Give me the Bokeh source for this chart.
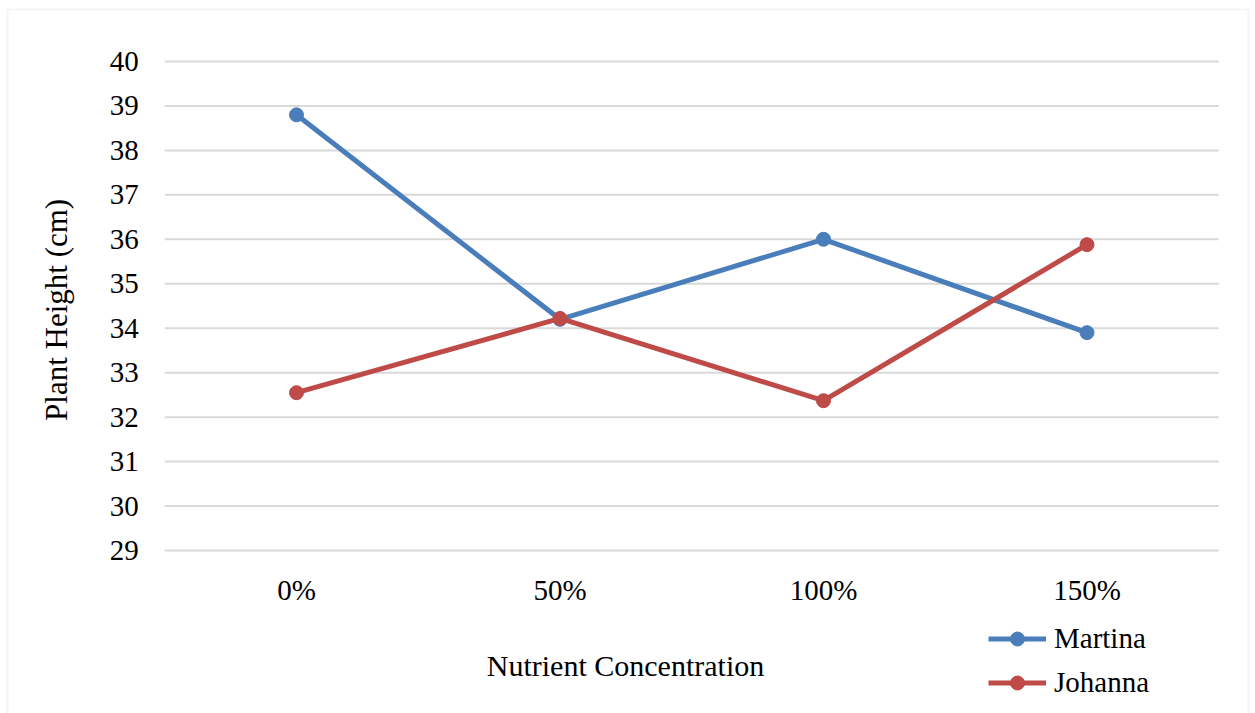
from bokeh.plotting import figure
from bokeh.models import (Range1d, Label, Legend, LegendItem, BoxAnnotation,
                          LinearAxis, FixedTicker)
from bokeh.embed import file_html
from bokeh.resources import INLINE

concentrations = ["0%", "50%", "100%", "150%"]
martina = [38.8, 34.2, 36.0, 33.9]
johanna = [32.55, 34.22, 32.37, 35.88]
series_names = ["Martina", "Johanna"]
y_ticks = [29, 30, 31, 32, 33, 34, 35, 36, 37, 38, 39, 40]

FONT = "Liberation Serif"
FS = "29px"
TITLE_FS = "30px"
BLUE = "#4A7EBB"
RED = "#BE4B48"
GRID = "#D9D9D9"

W, H = 1255, 713
# layout of the plotting area (pixels): category centres and value scale
CAT0_PX, CAT_STEP = 296.0, 263.5
Y40_PX, Y_UNIT = 61.0, 44.4545


def px_x(px):
    return (px - CAT0_PX) / CAT_STEP


def px_y(py):
    return 40 - (py - Y40_PX) / Y_UNIT


xs = list(range(len(concentrations)))

p = figure(width=W, height=H, output_backend="svg", toolbar_location=None,
           x_range=Range1d(px_x(0), px_x(W)), y_range=Range1d(px_y(H), px_y(0)),
           x_axis_type=None, y_axis_type=None,
           min_border=0, min_border_left=0, min_border_right=0,
           min_border_top=0, min_border_bottom=0)
p.outline_line_color = None
p.background_fill_color = "white"
p.border_fill_color = "white"
p.xgrid.visible = False
p.ygrid.visible = False

# horizontal gridlines across the category span
x_lo, x_hi = -0.5, len(concentrations) - 0.5
p.segment(x0=[x_lo] * len(y_ticks), x1=[x_hi] * len(y_ticks), y0=y_ticks, y1=y_ticks,
          line_color=GRID, line_width=2, level="underlay")

r1l = p.line(xs, martina, line_color=BLUE, line_width=5)
r1s = p.scatter(xs, martina, size=14, fill_color=BLUE, line_color=BLUE)
r2l = p.line(xs, johanna, line_color=RED, line_width=5)
r2s = p.scatter(xs, johanna, size=14, fill_color=RED, line_color=RED)

# axes placed at the edges of the category / value span
yaxis = LinearAxis(fixed_location=x_lo, ticker=FixedTicker(ticks=y_ticks), bounds=(29, 40))
xaxis = LinearAxis(fixed_location=29, ticker=FixedTicker(ticks=xs), bounds=(x_lo, x_hi),
                   major_label_overrides={i: c for i, c in zip(xs, concentrations)})
for ax in (xaxis, yaxis):
    ax.axis_line_color = None
    ax.major_tick_line_color = None
    ax.minor_tick_line_color = None
    ax.major_label_text_font = FONT
    ax.major_label_text_font_size = FS
    ax.major_label_text_color = "black"
yaxis.major_label_standoff = 20
xaxis.major_label_standoff = 18
yaxis.axis_label = "Plant  Height (cm)"
yaxis.axis_label_text_font = FONT
yaxis.axis_label_text_font_size = "31px"
yaxis.axis_label_text_font_style = "normal"
yaxis.axis_label_text_color = "black"
yaxis.axis_label_standoff = 33
p.add_layout(yaxis, "left")
p.add_layout(xaxis, "below")

xt = Label(x=px_x(625), y=px_y(665), text="Nutrient Concentration", text_font=FONT,
           text_font_size=TITLE_FS, text_color="black", text_align="center", text_baseline="middle")
p.add_layout(xt)

legend = Legend(items=[LegendItem(label=series_names[0], renderers=[r1l, r1s]),
                       LegendItem(label=series_names[1], renderers=[r2l, r2s])],
                location=(988, 13), orientation="vertical",
                label_text_font=FONT, label_text_font_size=FS, label_text_color="black",
                glyph_width=58, glyph_height=35, label_height=35, spacing=9,
                border_line_color=None, background_fill_alpha=0, padding=2, margin=0,
                label_standoff=8)
p.add_layout(legend, "center")

outer = BoxAnnotation(left=px_x(7), right=px_x(1248), top=px_y(9), bottom=px_y(H + 20),
                      fill_alpha=0, line_color=GRID, line_width=2, level="overlay")
p.add_layout(outer)

open("out.html", "w").write(file_html(p, INLINE))
